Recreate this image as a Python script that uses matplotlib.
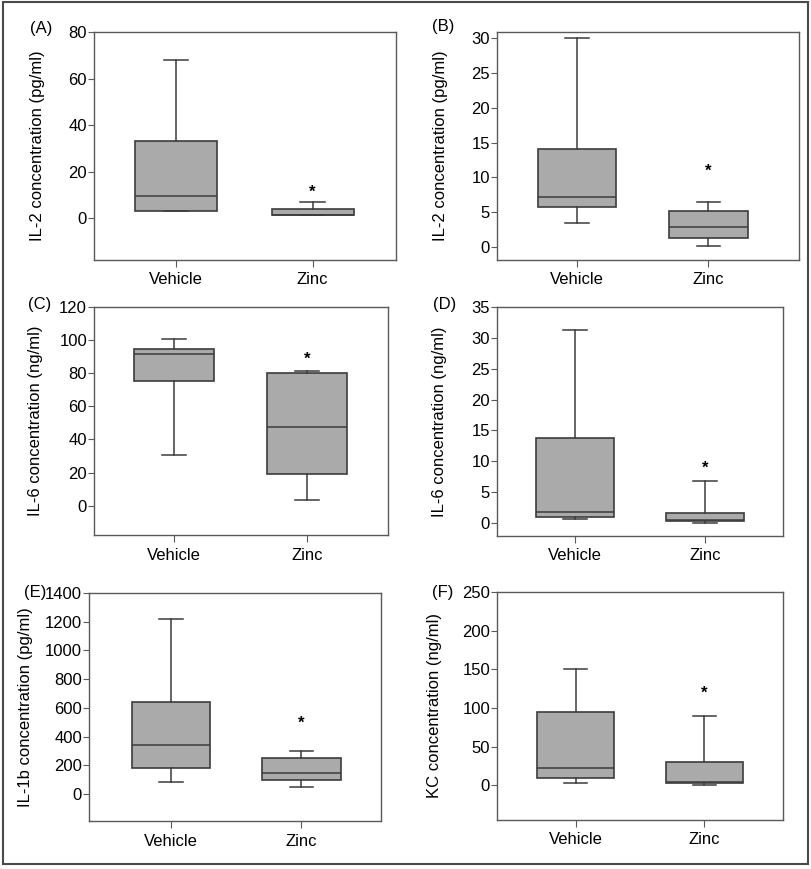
import matplotlib
matplotlib.use("Agg")
import matplotlib.pyplot as plt
from matplotlib.patches import Rectangle

plt.rcParams['font.family'] = ['Liberation Sans', 'DejaVu Sans']

groups = ['Vehicle', 'Zinc']

# box stats per panel: [whislo, q1, med, q3, whishi]
il2_a_vehicle = [3.0, 3.1, 9.3, 33.0, 68.0]
il2_a_zinc = [1.2, 1.3, 1.5, 4.0, 7.0]
il2_b_vehicle = [3.4, 5.7, 7.2, 14.1, 30.1]
il2_b_zinc = [0.15, 1.3, 2.9, 5.2, 6.4]
il6_c_vehicle = [30.5, 75.1, 91.8, 94.8, 100.5]
il6_c_zinc = [3.2, 19.0, 47.8, 80.0, 81.5]
il6_d_vehicle = [0.7, 1.0, 1.8, 13.8, 31.2]
il6_d_zinc = [0.05, 0.27, 0.43, 1.6, 6.8]
il1b_e_vehicle = [81, 181, 344, 639, 1217]
il1b_e_zinc = [46, 100, 146, 251, 300]
kc_f_vehicle = [3.0, 8.7, 22.5, 95.0, 150.0]
kc_f_zinc = [0.9, 3.0, 4.8, 30.3, 89.6]

# asterisk heights (significance mark above Zinc)
star_y = [11.3, 10.8, 88.4, 8.8, 490, 119]

panel_letters = ['(A)', '(B)', '(C)', '(D)', '(E)', '(F)']
ylabels = ['IL-2 concentration (pg/ml)', 'IL-2 concentration (pg/ml)',
           'IL-6 concentration (ng/ml)', 'IL-6 concentration (ng/ml)',
           'IL-1b concentration (pg/ml)', 'KC concentration (ng/ml)']
yticks = [range(0, 81, 20), range(0, 31, 5), range(0, 121, 20),
          range(0, 36, 5), range(0, 1401, 200), range(0, 251, 50)]
ylims = [(-18, 80), (-1.9, 30.9), (-17.7, 120), (-2.1, 35), (-188, 1400), (-45, 250)]
xlims = [(0.40, 2.61), (0.39, 2.69), (0.40, 2.61), (0.40, 2.60), (0.37, 2.61), (0.39, 2.61)]

data = [(il2_a_vehicle, il2_a_zinc), (il2_b_vehicle, il2_b_zinc),
        (il6_c_vehicle, il6_c_zinc), (il6_d_vehicle, il6_d_zinc),
        (il1b_e_vehicle, il1b_e_zinc), (kc_f_vehicle, kc_f_zinc)]

W, H = 811, 869
# axes boxes in pixels: left, right, top, bottom
boxes_px = [(94, 396, 32, 260), (497, 799, 32, 260),
            (94, 388, 307, 535), (497, 783, 307, 536),
            (89, 381, 593, 821), (497, 783, 592, 820)]
letter_px = [(30, 29), (432, 27), (28, 304), (433, 304), (24, 593), (432, 593)]
ylabel_px = [45, 448, 43, 447, 33, 442]

fig = plt.figure(figsize=(W / 100, H / 100), dpi=100)

fill = '#aaaaaa'
edge = '#3c3c3c'
spine_c = '#5a5a5a'
fs = 12

for i in range(6):
    l, r, t, b = boxes_px[i]
    ax = fig.add_axes([l / W, 1 - b / H, (r - l) / W, (b - t) / H])
    stats = []
    for vals, name in zip(data[i], groups):
        lo, q1, med, q3, hi = vals
        stats.append(dict(whislo=lo, q1=q1, med=med, q3=q3, whishi=hi,
                          fliers=[], label=name))
    ax.bxp(stats, positions=[1, 2], widths=0.6, capwidths=0.18,
           showfliers=False, patch_artist=True,
           boxprops=dict(facecolor=fill, edgecolor=edge, linewidth=1.2),
           medianprops=dict(color=edge, linewidth=1.1),
           whiskerprops=dict(color=edge, linewidth=1.1),
           capprops=dict(color=edge, linewidth=1.1))
    ax.text(2, star_y[i], '*', ha='center', va='center', fontsize=fs,
            fontweight='bold')
    ax.set_xlim(*xlims[i])
    ax.set_ylim(*ylims[i])
    ax.set_yticks(list(yticks[i]))
    ax.set_xticks([1, 2])
    ax.set_xticklabels(groups)
    ax.tick_params(axis='y', direction='out', length=4, width=0.8,
                   colors=spine_c, labelcolor='black', labelsize=fs, pad=1)
    ax.tick_params(axis='x', direction='out', length=5, width=0.8,
                   colors=spine_c, labelcolor='black', labelsize=fs, pad=4)
    for sp in ax.spines.values():
        sp.set_color(spine_c)
        sp.set_linewidth(1.0)
    ax.set_ylabel(ylabels[i], fontsize=fs)
    ax.yaxis.set_label_coords((ylabel_px[i] - l) / (r - l), 0.5)
    lx, ly = letter_px[i]
    fig.text(lx / W, 1 - ly / H, panel_letters[i], fontsize=fs,
             ha='left', va='center')

# outer frame around the whole figure
fig.patches.append(Rectangle((3 / W, 1 - 864 / H), 805 / W, 862 / H,
                             transform=fig.transFigure, fill=False,
                             edgecolor='#4a4a4a', linewidth=1.5))

fig.savefig('out.png', dpi=100)
